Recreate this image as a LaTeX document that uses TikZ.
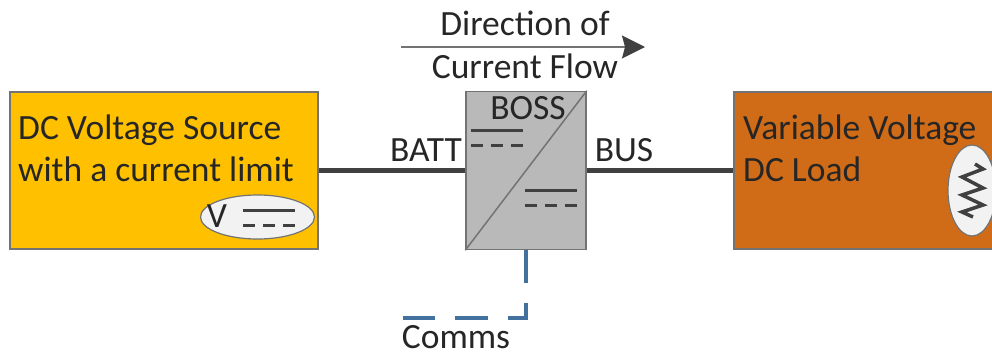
\documentclass[tikz,border=0pt]{standalone}
\usepackage{fontspec}
\setmainfont{Carlito}
\usetikzlibrary{arrows.meta,shapes.geometric}

\definecolor{fuente}{HTML}{FFC000}
\definecolor{carga}{HTML}{D06C18}
\definecolor{conv}{HTML}{B9B9B9}
\definecolor{borde}{HTML}{737373}
\definecolor{cable}{HTML}{404040}
\definecolor{comms}{HTML}{41719C}
\definecolor{burbuja}{HTML}{F2F2F2}

\tikzset{
  caja/.style={draw=borde, line width=1.5pt, inner sep=0pt},
  burb/.style={ellipse, draw=borde, fill=burbuja, line width=1.2pt, inner sep=0pt},
  rotulo/.style={font=\fontsize{35.5}{42}\selectfont, text=black!85, inner sep=0pt, align=left},
  cablebus/.style={cable, line width=5pt},
  solida/.style={cable, line width=3pt},
  rayada/.style={cable, line width=3pt, dash pattern=on 12pt off 8pt},
}

\begin{document}
\begin{tikzpicture}[x=1pt,y=-1pt]

      \useasboundingbox (0,0) rectangle (992,351);

      % Cajas
      \node[caja, fill=fuente, minimum width=308pt, minimum height=157pt] (fuente) at (164,170.5) {};
      \node[caja, fill=conv, minimum width=120pt, minimum height=158pt] (boss) at (526,170.5) {};
      \node[caja, fill=carga, minimum width=300pt, minimum height=157pt] (carga) at (884,170.5) {};

      % Cables
      \draw[cablebus] (fuente) -- (boss);
      \draw[cablebus] (boss) -- (carga);
      \draw[borde, line width=1.5pt] (boss.south west) -- (boss.north east);

      % Textos
      \node[rotulo, anchor=base west] (ftexto) at (18,181) {DC Voltage Source\\with a current limit};
      \node[rotulo, anchor=base west] (ctexto) at (743,181) {Variable Voltage\\DC Load};
      \node[rotulo, anchor=base] (tboss) at (528,119) {BOSS};
      \node[rotulo, anchor=base] (batt) at (426,161) {BATT};
      \node[rotulo, anchor=base] (bus) at (624,161) {BUS};
      \node[rotulo, anchor=base] (dir) at (525,35) {Direction of};
      \node[rotulo, anchor=base] (flujo) at (525,78) {Current Flow};
      \node[rotulo, anchor=base] (tcomms) at (456,348) {Comms};

      % Flecha de corriente
      \coordinate (ini) at (401,47);
      \coordinate (fin) at (645,47);
      \draw[-{Stealth[inset=3pt,length=23pt,width=23pt,color=cable]}, borde, line width=2pt] (ini) -- (fin);

      % Linea de comunicaciones
      \coordinate (esq) at (526,318);
      \coordinate (cfin) at (403,318);
      \draw[comms, line width=3.5pt, dash pattern=on 33pt off 20pt] (boss.south) -- (esq) -- (cfin);

      % Simbolos DC
      \draw[solida] (471,130) -- (523,130);
      \draw[rayada] (471,145) -- (523,145);
      \draw[solida] (525,190) -- (577,190);
      \draw[rayada] (525,205) -- (577,205);

      % Burbuja de la fuente
      \node[burb, minimum width=114pt, minimum height=44pt] (vbur) at (257.5,217) {};
      \node[rotulo, anchor=base] (vtexto) at (217,227) {V};
      \draw[solida] (243,210) -- (295,210);
      \draw[rayada] (243,225) -- (295,225);

      % Burbuja de la carga
      \node[burb, minimum width=48pt, minimum height=91pt] (rbur) at (972,190.5) {};
      \draw[cable, line width=3.5pt]
        (975,164) -- (983,169) -- (962,177) -- (983,188) -- (962,195)
        -- (983,205) -- (962,212) -- (973,217);

\end{tikzpicture}
\end{document}
